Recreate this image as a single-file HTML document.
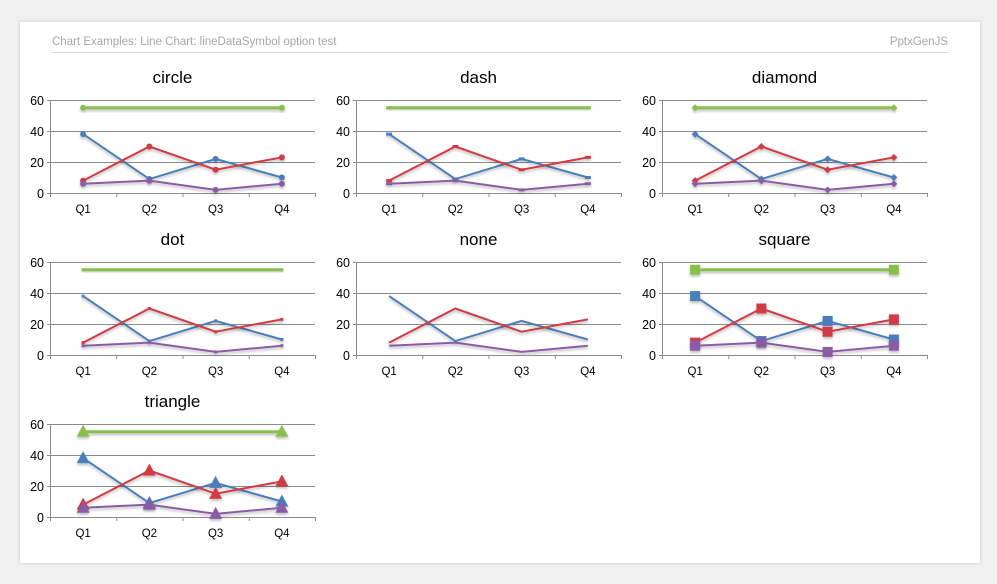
<!DOCTYPE html>
<html><head><meta charset="utf-8"><style>
body{margin:0;background:#f0f0f0;width:997px;height:584px;overflow:hidden;font-family:"Liberation Sans",Arial,sans-serif}
#card{position:absolute;left:20px;top:22px;width:960px;height:541px;background:#fff;box-shadow:0 0 3px rgba(0,0,0,.18)}
</style></head><body>
<div id="card"></div>
<svg id="s" width="997" height="584" style="position:absolute;left:0;top:0">
<defs><filter id="sh" x="-10%" y="-10%" width="120%" height="140%"><feDropShadow dx="0" dy="2" stdDeviation="1.2" flood-color="#000" flood-opacity="0.25"/></filter></defs>
<text x="52" y="45" font-size="11.5" fill="#a6a6a6">Chart Examples: Line Chart: lineDataSymbol option test</text>
<text x="948" y="45" font-size="11.5" fill="#a6a6a6" text-anchor="end">PptxGenJS</text>
<line x1="52" y1="52.5" x2="948" y2="52.5" stroke="#d9d9d9"/>
</svg>
<script>
const categories=["Q1","Q2","Q3","Q4"];
const blueValues=[38,9,22,10];
const redValues=[8,30,15,23];
const purpleValues=[6,8,2,6];
const greenValues=[55,null,null,55];
const yTicks=[0,20,40,60];
const symbols=["circle","dash","diamond","dot","none","square","triangle"];
const seriesColors=["#4a7ebb","#d13a44","#88bf4d","#8a5ba6"];
const NS="http://www.w3.org/2000/svg",svg=document.getElementById('s');
function mk(t,a,p){const e=document.createElementNS(NS,t);for(const k in a)e.setAttribute(k,a[k]);(p||svg).appendChild(e);return e;}
const lefts=[50,356,662],bottoms=[193,355,517],W=265,H=93;
symbols.forEach((sym,i)=>{
 const L=lefts[i%3],B=bottoms[Math.floor(i/3)];
 const g=mk('g',{});
 
 
 const x=j=>L+W/categories.length*(j+0.5);
 const y=v=>B-v/60*H;
 const t=mk('text',{x:L+W/2-10,y:B-110,'font-size':17,'text-anchor':'middle',fill:'#000'},g);t.textContent=sym;
 
 
 yTicks.forEach(v=>{
  const gl=mk('line',{x1:L-3,x2:L+W,y1:y(v)+.5,y2:y(v)+.5,stroke:'#8c8c8c'},g);
  
  
  const tl=mk('text',{x:L-6,y:y(v)+5,'font-size':12.5,'text-anchor':'end'},g);tl.textContent=v;
  
  
 });
 const ax=mk('line',{x1:L+.5,x2:L+.5,y1:y(60),y2:B,stroke:'#8c8c8c'},g);
 
 
 for(let j=0;j<=categories.length;j++){const tk=mk('line',{x1:L+W/4*j+.5,x2:L+W/4*j+.5,y1:B,y2:B+4,stroke:'#8c8c8c'},g);
  
  }
 categories.forEach((c,j)=>{const tl=mk('text',{x:x(j),y:B+20,'font-size':11.5,'text-anchor':'middle'},g);tl.textContent=c;
  
  });
 [blueValues,redValues,greenValues,purpleValues].forEach((vals,k)=>{
  const col=[seriesColors[0],seriesColors[1],seriesColors[2],seriesColors[3]][k];
  const pts=[];vals.forEach((v,j)=>{if(v!=null)pts.push([x(j),y(v)]);});
  const sg=mk('g',{filter:'url(#sh)'},g);
  
  
  mk('polyline',{points:pts.map(p=>p.join(',')).join(' '),fill:'none',stroke:col,'stroke-width':k==2?3:2},sg);
  pts.forEach(([px,py])=>{let m;
   if(sym=='circle')m=mk('circle',{cx:px,cy:py,r:3,fill:col},sg);
   else if(sym=='dash')m=mk('rect',{x:px-3,y:py-1.5,width:6,height:3,fill:col},sg);
   else if(sym=='diamond')m=mk('polygon',{points:`${px},${py-3.5} ${px+3.5},${py} ${px},${py+3.5} ${px-3.5},${py}`,fill:col},sg);
   else if(sym=='dot')m=mk('rect',{x:px-1.5,y:py-1.5,width:3,height:3,fill:col},sg);
   else if(sym=='square')m=mk('rect',{x:px-5,y:py-5,width:10,height:10,fill:col},sg);
   else if(sym=='triangle')m=mk('polygon',{points:`${px},${py-7} ${px+6.5},${py+5} ${px-6.5},${py+5}`,fill:col},sg);
   if(m){
    }
  });
 });
});
</script>
</body></html>
